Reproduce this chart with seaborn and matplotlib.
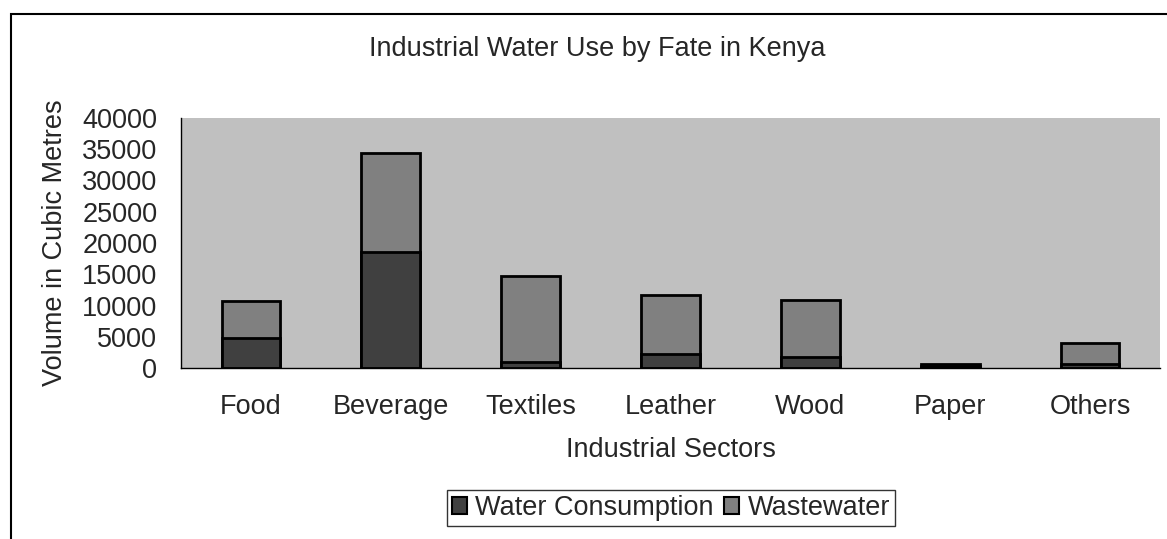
import numpy as np
import pandas as pd
import seaborn as sns
import matplotlib.pyplot as plt
from matplotlib.patches import Rectangle, Patch

# Data (cubic metres)
sectors = ['Food', 'Beverage', 'Textiles', 'Leather', 'Wood', 'Paper', 'Others']
consumption = [4850, 18500, 1000, 2250, 1800, 250, 600]
wastewater = [5950, 15900, 13650, 9450, 9050, 350, 3450]

df = pd.DataFrame({'sector': sectors, 'consumption': consumption, 'wastewater': wastewater})
df['total'] = df['consumption'] + df['wastewater']

FS = 19.5

sns.set_style('white')
plt.rcParams['font.family'] = ['Liberation Sans', 'DejaVu Sans']

W, H = 1167, 539
x0, x1, y0, y1 = 181, 1160, 118, 368   # plot area in pixels

fig = plt.figure(figsize=(W / 100, H / 100), dpi=100)
ax = fig.add_axes([x0 / W, 1 - y1 / H, (x1 - x0) / W, (y1 - y0) / H])
ax.set_facecolor('#c0c0c0')

# stacked bars: total first (wastewater colour), consumption drawn over it
sns.barplot(data=df, x='sector', y='total', color='#808080', width=0.42,
            edgecolor='black', linewidth=2, saturation=1, ax=ax)
sns.barplot(data=df, x='sector', y='consumption', color='#404040', width=0.42,
            edgecolor='black', linewidth=2, saturation=1, ax=ax)

ax.set_xlim(-0.5, len(sectors) - 0.5)
ax.set_ylim(0, 40000)
ax.set_yticks(np.arange(0, 40001, 5000))
ax.tick_params(axis='y', labelsize=FS, length=8, width=1, color='black', direction='out', pad=9)
ax.tick_params(axis='x', which='major', labelsize=FS, length=0, pad=19)
ax.set_xticks(np.arange(-0.5, len(sectors), 1), minor=True)
ax.tick_params(axis='x', which='minor', length=8, width=1, color='black', direction='in')

for s in ['top', 'right']:
    ax.spines[s].set_visible(False)
for s in ['left', 'bottom']:
    ax.spines[s].set_color('black')
    ax.spines[s].set_linewidth(1)

ax.set_xlabel('Industrial Sectors', fontsize=FS)
ax.xaxis.set_label_coords(0.5, (y1 - 450) / (y1 - y0))
ax.xaxis.label.set_va('center')
ax.set_ylabel('Volume in Cubic Metres', fontsize=FS)
ax.yaxis.set_label_coords((55 - x0) / (x1 - x0), 0.5)
ax.yaxis.label.set_va('center')

fig.text(597 / W, 1 - 49 / H, 'Industrial Water Use by Fate in Kenya',
         ha='center', va='center', fontsize=FS)

handles = [Patch(facecolor='#404040', edgecolor='black', linewidth=1.5, label='Water Consumption'),
           Patch(facecolor='#808080', edgecolor='black', linewidth=1.5, label='Wastewater')]
leg = fig.legend(handles=handles, loc='center', bbox_to_anchor=(671 / W, 1 - 508 / H),
                 ncol=2, fontsize=FS, frameon=True, fancybox=False, handlelength=0.55,
                 handleheight=0.55, handletextpad=0.3, columnspacing=0.4, borderpad=0.2,
                 borderaxespad=0)
leg.get_frame().set_edgecolor('black')
leg.get_frame().set_linewidth(1)

# outer chart border (cut off at right and bottom)
fig.patches.append(Rectangle((11 / W, -0.1), 1.2, 1 - 14 / H + 0.1,
                             transform=fig.transFigure, fill=False,
                             edgecolor='black', linewidth=1.5))

fig.savefig('out.png', dpi=100)
